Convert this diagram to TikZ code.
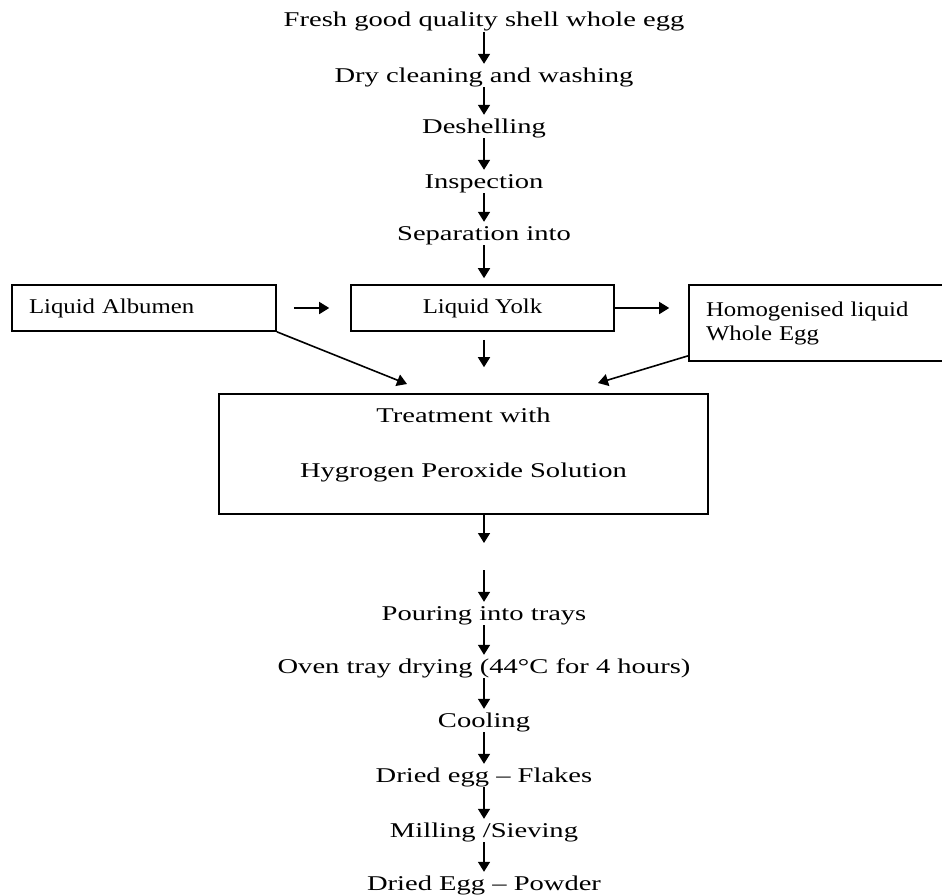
\documentclass[tikz,border=0pt]{standalone}
\usepackage{fontspec}
\newfontfamily\stepfont{Liberation Serif}[FakeStretch=1.36]
\newfontfamily\tagfont{Liberation Serif}[FakeStretch=1.18]
\usepackage{tikz}
\usetikzlibrary{calc, positioning, arrows.meta}
\tikzset{
    stage/.style={inner sep=0pt, anchor=base, text height=18pt, text depth=5pt, font=\stepfont\fontsize{21}{24}\selectfont},
    tagbox/.style={rectangle, draw=black, line width=1.6pt, minimum height=46pt, font=\tagfont\fontsize{21}{24}\selectfont},
    bigbox/.style={rectangle, draw=black, line width=1.6pt, minimum width=489pt, minimum height=120pt},
    flow/.style={-{Triangle[width=12pt,length=10pt]}, line width=1.6pt}
}
\begin{document}
\begin{tikzpicture}[x=1pt, y=-1pt]
        \useasboundingbox (0,0) rectangle (942,894);

        % Preparation
        \node[stage] (fresh) at (484,27) {Fresh good quality shell whole egg};
        \node[stage] (dry) at (484,82) {Dry cleaning and washing};
        \node[stage] (desh) at (484,133) {Deshelling};
        \node[stage] (insp) at (484,188) {Inspection};
        \node[stage] (sep) at (484,240) {Separation into};

        \draw[flow] (fresh) -- (dry);
        \draw[flow] (dry) -- (desh);
        \draw[flow] (desh) -- (insp);
        \draw[flow] (insp) -- (sep);

        % Liquid products
        \node[tagbox, minimum width=264pt, text width=230pt, inner xsep=17pt, align=left] (alb) at (144,308) {Liquid Albumen};
        \node[tagbox, minimum width=263pt] (yolk) at (482.5,308) {Liquid Yolk};
        \node[tagbox, minimum height=76pt, text width=223pt, inner xsep=17pt, align=left] (homog) at (817.5,323) {Homogenised liquid\\Whole Egg};

        \draw[flow, shorten >=6pt] (sep) -- (sep |- yolk.north);
        \draw[flow, shorten <=17pt, shorten >=21pt] (alb) -- (yolk);
        \draw[flow, shorten >=19pt] (yolk.east) -- (yolk.east -| homog.west);

        % Treatment
        \node[bigbox] (treat) at (463.5,454) {};
        \node[stage] (treatA) at (463.5,422) {Treatment with};
        \node[stage] (treatB) at (463.5,477) {Hygrogen Peroxide Solution};

        \coordinate (inL) at (407,384);
        \coordinate (inR) at (598,383);
        \draw[flow] (alb.south east) -- (inL);
        \draw[flow, shorten <=8pt, shorten >=26pt] (yolk.south -| sep) -- (sep |- treat.north);
        \draw[flow] ([yshift=6pt]homog.south west) -- (inR);

        % Drying
        \node[stage] (pour) at (484,620) {Pouring into trays};
        \node[stage] (oven) at (484,673) {Oven tray drying (44°C for 4 hours)};
        \node[stage] (cool) at (484,727) {Cooling};
        \node[stage] (flakes) at (484,782) {Dried egg – Flakes};
        \node[stage] (mill) at (484,837) {Milling /Sieving};
        \node[stage] (powder) at (484,890) {Dried Egg – Powder};

        \coordinate (gapA) at (484,543);
        \coordinate (gapB) at (484,570);
        \draw[flow] (treat.south -| gapA) -- (gapA);
        \draw[flow] (gapB) -- (pour);
        \draw[flow] (pour) -- (oven);
        \draw[flow] (oven) -- (cool);
        \draw[flow] (cool) -- (flakes);
        \draw[flow] (flakes) -- (mill);
        \draw[flow] (mill) -- (powder);
\end{tikzpicture}
\end{document}
